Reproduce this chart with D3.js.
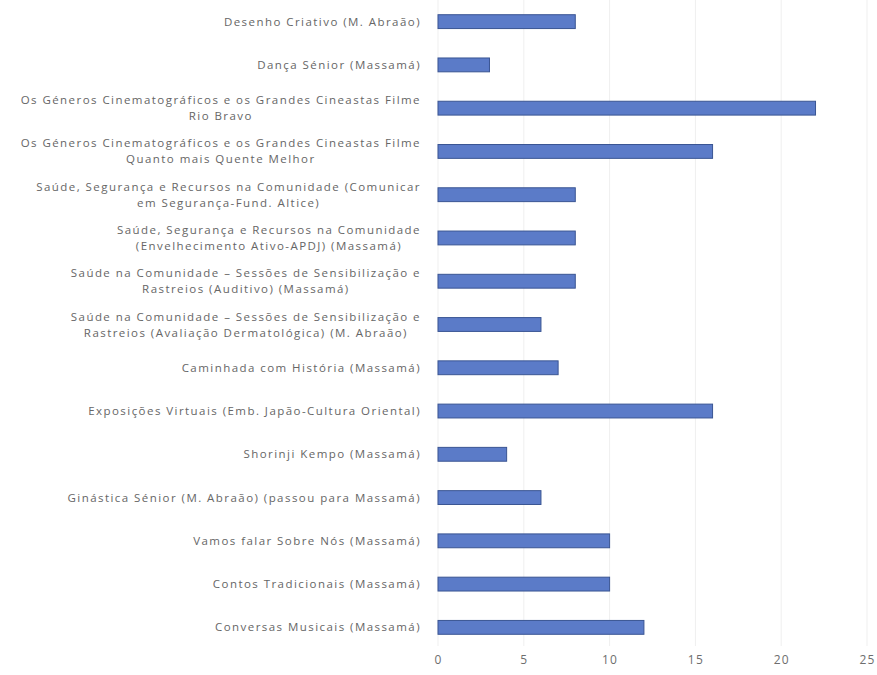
<!DOCTYPE html>
<html>
<head>
<meta charset="utf-8">
<script src="https://cdn.jsdelivr.net/npm/d3@7"></script>
<style>
  body { margin: 0; background: #fff; }
  text { font-family: "Open Sans", sans-serif; }
</style>
</head>
<body>
<script>
// categories, top to bottom; "\n" marks the wrapped lines
var categories = [
    "Desenho Criativo (M. Abraão)",
    "Dança Sénior (Massamá)",
    "Os Géneros Cinematográficos e os Grandes Cineastas Filme\nRio Bravo",
    "Os Géneros Cinematográficos e os Grandes Cineastas Filme\nQuanto mais Quente Melhor",
    "Saúde, Segurança e Recursos na Comunidade  (Comunicar\nem Segurança-Fund. Altice)",
    "Saúde, Segurança e Recursos na Comunidade\n(Envelhecimento Ativo-APDJ) (Massamá)",
    "Saúde na Comunidade – Sessões de Sensibilização e\nRastreios (Auditivo) (Massamá)",
    "Saúde na Comunidade – Sessões de Sensibilização e\nRastreios  (Avaliação Dermatológica) (M. Abraão)",
    "Caminhada com História (Massamá)",
    "Exposições Virtuais (Emb. Japão-Cultura Oriental)",
    "Shorinji Kempo (Massamá)",
    "Ginástica Sénior  (M. Abraão) (passou para Massamá)",
    "Vamos falar Sobre Nós (Massamá)",
    "Contos Tradicionais (Massamá)",
    "Conversas Musicais (Massamá)"
];
var values = [8, 3, 22, 16, 8, 8, 8, 6, 7, 16, 4, 6, 10, 10, 12];
var xTicks = [0, 5, 10, 15, 20, 25];

var width = 877;
var height = 675;
var margin = { top: 0, bottom: 26, left: 438, right: 10 };

var svg = d3.select("body")
    .append("svg")
    .attr("width", width)
    .attr("height", height);

var xScale = d3.scaleLinear()
    .domain([0, 25])
    .range([margin.left, 867]);

var yScale = d3.scaleBand()
    .domain(d3.range(categories.length))
    .range([0, 649])
    .paddingInner(0.68)
    .paddingOuter(0.34);

// gridlines
svg.append("g")
    .selectAll("line")
    .data(xTicks)
    .enter()
    .append("line")
    .attr("x1", d => xScale(d))
    .attr("x2", d => xScale(d))
    .attr("y1", 0)
    .attr("y2", 646)
    .attr("stroke", "#efefef")
    .attr("stroke-width", 1);

// bars
svg.append("g")
    .selectAll("rect")
    .data(values)
    .enter()
    .append("rect")
    .attr("x", xScale(0))
    .attr("y", (d, i) => yScale(i))
    .attr("width", d => xScale(d) - xScale(0))
    .attr("height", yScale.bandwidth())
    .attr("fill", "#5b7bc8")
    .attr("stroke", "#3a5593")
    .attr("stroke-width", 1);

// x axis labels
var xAxis = svg.append("g")
    .attr("transform", "translate(0," + 655 + ")")
    .call(d3.axisBottom(xScale).tickValues(xTicks).tickSize(0).tickPadding(0));
xAxis.select(".domain").remove();
xAxis.selectAll("text")
    .attr("dy", "0.71em")
    .style("font-family", "'Open Sans', sans-serif")
    .style("font-size", "12px")
    .style("letter-spacing", "1.2px")
    .attr("fill", "#6e6e6e");

// category labels: one text per category, wrapped lines as tspans,
// centred within a right-aligned block
var labelRight = 421;
var lineH = 16;
var labels = svg.append("g");
categories.forEach(function (c, i) {
    var lines = c.split("\n");
    var cy = yScale(i) + yScale.bandwidth() / 2;
    var text = labels.append("text")
        .attr("text-anchor", "middle")
        .style("font-size", "11.5px")
        .style("letter-spacing", "1.45px")
        .attr("fill", "#666666");
    var spans = lines.map(function (l, k) {
        return text.append("tspan")
            .attr("y", cy + (k - (lines.length - 1) / 2) * lineH)
            .attr("dy", "0.35em")
            .text(l);
    });
    var w = d3.max(spans, s => s.node().getComputedTextLength());
    spans.forEach(s => s.attr("x", labelRight - w / 2));
});
</script>
</body>
</html>
